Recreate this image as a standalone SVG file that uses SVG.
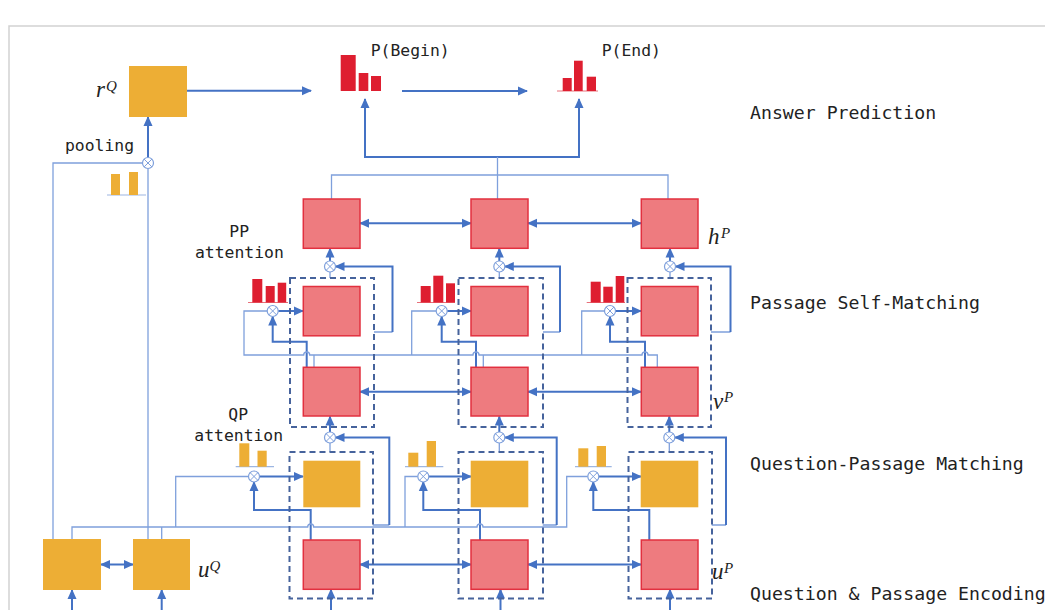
<svg xmlns="http://www.w3.org/2000/svg" width="1045" height="610" viewBox="0 0 1045 610">
<style>
.frame{fill:none;stroke:#d2d2d2;stroke-width:1.5}
.rbox{fill:#EE7B7F;stroke:#E2303F;stroke-width:1.5}
.obox{fill:#EDAE35}
.dash{fill:none;stroke:#46639C;stroke-width:2;stroke-dasharray:6 4}
.thk{fill:none;stroke:#4472C4;stroke-width:2}
.thn{fill:none;stroke:#7FA0DC;stroke-width:1.3}
.rbar{fill:#DE1E30}
.obar{fill:#EDAE35}
.rbase{stroke:#E8707A;stroke-width:1}
.obase{stroke:#9DB6E2;stroke-width:1.2}
.mono{font-family:"DejaVu Sans Mono","Liberation Mono",monospace;fill:#222;font-size:16.4px}
.lbl{font-family:"DejaVu Sans Mono","Liberation Mono",monospace;fill:#222;font-size:18.2px}
.math{font-family:"Liberation Serif","DejaVu Serif",serif;font-style:italic;fill:#222;font-size:23px}
.sup{font-size:15px}
.ot circle{fill:#fff;stroke:#7FA0DC;stroke-width:1.2}
.ot path{stroke:#7FA0DC;stroke-width:1}
</style>
<defs>
<marker id="ah" viewBox="0 0 10 10" refX="9" refY="5" markerWidth="10" markerHeight="10" markerUnits="userSpaceOnUse" orient="auto-start-reverse">
<path d="M0,0.5 L10,5 L0,9.5 z" fill="#4472C4"/>
</marker>
<g id="otm" class="ot"><circle cx="0" cy="0" r="5.5"/><path d="M-3.9,-3.9 L3.9,3.9 M-3.9,3.9 L3.9,-3.9"/></g>
</defs>

<path class="frame" d="M1045,26 H9 V610"/>

<g id="connectors">
<!-- top / answer prediction -->
<path class="thk" d="M187,90.7 H311" marker-end="url(#ah)"/>
<path class="thk" d="M402,91 H527" marker-end="url(#ah)"/>
<path class="thk" d="M365,157 V99" marker-end="url(#ah)"/>
<path class="thk" d="M579,157 V99"  marker-end="url(#ah)"/>
<path class="thk" d="M364,157 H580"/>
<path class="thn" d="M497.5,157 V199 M331.5,199 V175 H668 V199"/>
<!-- pooling -->
<path class="thk" d="M148,157.5 V117" marker-end="url(#ah)"/>
<path class="thn" d="M148,168.5 V539 M142.5,163 H53 V539"/>
<!-- h row bidirectional -->
<path class="thk" d="M360,223.3 H471" marker-start="url(#ah)" marker-end="url(#ah)"/>
<path class="thk" d="M528,223.3 H641" marker-start="url(#ah)" marker-end="url(#ah)"/>
<!-- v row -->
<path class="thk" d="M360,391.7 H471" marker-start="url(#ah)" marker-end="url(#ah)"/>
<path class="thk" d="M528,391.7 H641" marker-start="url(#ah)" marker-end="url(#ah)"/>
<!-- u row -->
<path class="thk" d="M360,564.5 H471" marker-start="url(#ah)" marker-end="url(#ah)"/>
<path class="thk" d="M528,564.5 H641" marker-start="url(#ah)" marker-end="url(#ah)"/>
<path class="thk" d="M101,564.5 H133" marker-start="url(#ah)" marker-end="url(#ah)"/>
<!-- bottom inputs -->
<path class="thk" d="M72,610 V590" marker-end="url(#ah)"/>
<path class="thk" d="M161.7,610 V590" marker-end="url(#ah)"/>
<path class="thk" d="M331,610 V589.5" marker-end="url(#ah)"/>
<path class="thk" d="M500.5,610 V589.5" marker-end="url(#ah)"/>
<path class="thk" d="M670,610 V589.5" marker-end="url(#ah)"/>

<!-- self-matching level: ⊗ to h -->
<path class="thk" d="M330,261 V248.5" marker-end="url(#ah)"/>
<path class="thk" d="M499.3,261 V248.5" marker-end="url(#ah)"/>
<path class="thk" d="M670,261 V248.5" marker-end="url(#ah)"/>
<path class="thn" d="M330,278 V272 M499.3,278 V272 M670,278 V272"/>
<!-- feedback to top ⊗ -->
<path class="thn" d="M374,332 H392.5 M543,332 H560 M711,332 H730.5"/>
<path class="thk" d="M392.5,332 V266.5 H335.5" marker-end="url(#ah)"/>
<path class="thk" d="M560,332 V266.5 H504.8" marker-end="url(#ah)"/>
<path class="thk" d="M730.5,332 V266.5 H675.5" marker-end="url(#ah)"/>
<!-- attention ⊗ to self-matching boxes -->
<path class="thk" d="M278.2,311 H303" marker-end="url(#ah)"/>
<path class="thk" d="M447.2,311 H471" marker-end="url(#ah)"/>
<path class="thk" d="M615.5,311 H641" marker-end="url(#ah)"/>
<!-- thick from v to ⊗ -->
<path class="thk" d="M306.7,367 V341.7 H272.7 V316.5" marker-end="url(#ah)"/>
<path class="thk" d="M476,367 V341.7 H441.7 V316.5" marker-end="url(#ah)"/>
<path class="thk" d="M645,367 V341.7 H610 V316.5" marker-end="url(#ah)"/>
<!-- thin shared line y=355 -->
<path class="thn" d="M267.2,311 H244 V355 H303.7 a3,3 0 0 1 6,0 H473 a3,3 0 0 1 6,0 H642 a3,3 0 0 1 6,0 H657.3 V367"/>
<path class="thn" d="M314,355 V367 M483.3,355 V367"/>
<path class="thn" d="M436.2,311 H411.7 V355 M604.5,311 H581.7 V355"/>

<!-- QP level: ⊗ to v -->
<path class="thk" d="M330,432 V416.5" marker-end="url(#ah)"/>
<path class="thk" d="M499.3,432 V416.5" marker-end="url(#ah)"/>
<path class="thk" d="M669.3,432 V416.5" marker-end="url(#ah)"/>
<path class="thn" d="M330,452 V443 M499.3,452 V443 M669.3,452 V443"/>
<path class="thn" d="M372.7,525 H389.3 M542.7,525 H556.7 M711.7,525 H726"/>
<path class="thk" d="M389.3,525 V437.5 H335.5" marker-end="url(#ah)"/>
<path class="thk" d="M556.7,525 V437.5 H504.8" marker-end="url(#ah)"/>
<path class="thk" d="M726,525 V437.5 H674.8" marker-end="url(#ah)"/>
<path class="thk" d="M259.5,476.5 H303" marker-end="url(#ah)"/>
<path class="thk" d="M428.8,476.5 H471" marker-end="url(#ah)"/>
<path class="thk" d="M598.8,476.5 H641" marker-end="url(#ah)"/>
<path class="thk" d="M310.7,540 V510 H254 V482" marker-end="url(#ah)"/>
<path class="thk" d="M480,540 V510 H423.3 V482" marker-end="url(#ah)"/>
<path class="thk" d="M649.3,540 V510 H593.3 V482" marker-end="url(#ah)"/>
<path class="thn" d="M72,539 V527 H307.7 a3,3 0 0 1 6,0 H477 a3,3 0 0 1 6,0 H566.7 V476.5 H587.8"/>
<path class="thn" d="M161.7,539 V527 M175.7,527 V476.5 H248.5 M405,527 V476.5 H417.8"/>
</g>

<g id="otimes">
<use href="#otm" x="148" y="163"/>
<use href="#otm" x="330" y="266.5"/>
<use href="#otm" x="499.3" y="266.5"/>
<use href="#otm" x="670" y="266.5"/>
<use href="#otm" x="272.7" y="311"/>
<use href="#otm" x="441.7" y="311"/>
<use href="#otm" x="610" y="311"/>
<use href="#otm" x="330" y="437.5"/>
<use href="#otm" x="499.3" y="437.5"/>
<use href="#otm" x="669.3" y="437.5"/>
<use href="#otm" x="254" y="476.5"/>
<use href="#otm" x="423.3" y="476.5"/>
<use href="#otm" x="593.3" y="476.5"/>
</g>

<g id="dashed-groups">
<rect class="dash" x="290" y="278" width="84" height="149"/>
<rect class="dash" x="458.5" y="278" width="84.5" height="149"/>
<rect class="dash" x="627.5" y="278" width="83.5" height="149"/>
<rect class="dash" x="289.5" y="452" width="83.5" height="146.5"/>
<rect class="dash" x="458.5" y="452" width="84.5" height="146.5"/>
<rect class="dash" x="628.5" y="452" width="83.5" height="146.5"/>
</g>

<g id="rQ"><rect class="obox" x="129" y="66" width="58" height="51"/>
<text class="math" x="96" y="97">r</text><text class="math sup" x="106" y="91">Q</text></g>
<g id="q-enc-1"><rect class="obox" x="43" y="539" width="58" height="51"/></g>
<g id="uQ"><rect class="obox" x="133" y="539" width="57" height="51"/>
<text class="math" x="198" y="577">u</text><text class="math sup" x="209.5" y="571">Q</text></g>

<g id="h1"><rect class="rbox" x="303.3" y="199" width="56.7" height="49.3"/></g>
<g id="h2"><rect class="rbox" x="471" y="199" width="57" height="49.3"/></g>
<g id="h3"><rect class="rbox" x="641.3" y="199" width="56.7" height="49.3"/>
<text class="math" x="708" y="243.5">h</text><text class="math sup" x="721" y="237.5">P</text></g>

<g id="sm1"><rect class="rbox" x="303.3" y="286.5" width="56.7" height="49.3"/></g>
<g id="sm2"><rect class="rbox" x="471" y="286.5" width="57" height="49.3"/></g>
<g id="sm3"><rect class="rbox" x="641.3" y="286.5" width="56.7" height="49.3"/></g>

<g id="v1"><rect class="rbox" x="303.3" y="367.3" width="56.7" height="48.7"/></g>
<g id="v2"><rect class="rbox" x="471" y="367.3" width="57" height="48.7"/></g>
<g id="v3"><rect class="rbox" x="641.3" y="367.3" width="56.7" height="48.7"/>
<text class="math" x="713" y="408.5">v</text><text class="math sup" x="724" y="402">P</text></g>

<g id="qp1"><rect class="obox" x="303.3" y="460.7" width="57" height="46.6"/></g>
<g id="qp2"><rect class="obox" x="470.7" y="460.7" width="57.6" height="46.6"/></g>
<g id="qp3"><rect class="obox" x="640.7" y="460.7" width="57.6" height="46.6"/></g>

<g id="u1"><rect class="rbox" x="303.3" y="540" width="56.7" height="49.3"/></g>
<g id="u2"><rect class="rbox" x="471" y="540" width="57" height="49.3"/></g>
<g id="u3"><rect class="rbox" x="641.3" y="540" width="56.7" height="49.3"/>
<text class="math" x="712" y="579">u</text><text class="math sup" x="724" y="573">P</text></g>

<g id="p-begin">
<rect class="rbar" x="340.7" y="55" width="15" height="36"/>
<rect class="rbar" x="358.7" y="73" width="9.6" height="18"/>
<rect class="rbar" x="371" y="76" width="10" height="15"/>
<text class="mono" x="370.7" y="56">P(Begin)</text>
</g>
<g id="p-end">
<line class="rbase" x1="557" y1="91" x2="598" y2="91"/>
<rect class="rbar" x="562.7" y="78" width="9" height="13"/>
<rect class="rbar" x="574" y="60.7" width="8.7" height="30.3"/>
<rect class="rbar" x="586.7" y="76.7" width="9.3" height="14.3"/>
<text class="mono" x="601.7" y="56">P(End)</text>
</g>

<g id="pooling">
<line class="obase" x1="107" y1="195" x2="146" y2="195"/>
<rect class="obar" x="111" y="174" width="9" height="21"/>
<rect class="obar" x="129" y="172" width="9" height="23"/>
<text class="mono" x="65" y="151">pooling</text>
</g>

<g id="pp-attention">
<line class="rbase" x1="248" y1="302.5" x2="288" y2="302.5"/>
<rect class="rbar" x="252.3" y="279" width="10" height="23.5"/>
<rect class="rbar" x="265.7" y="286" width="9" height="16.5"/>
<rect class="rbar" x="277.7" y="282.7" width="8.5" height="19.8"/>
<line class="rbase" x1="417" y1="302.5" x2="455" y2="302.5"/>
<rect class="rbar" x="420.7" y="286" width="10" height="16.5"/>
<rect class="rbar" x="433.3" y="275.7" width="10" height="26.8"/>
<rect class="rbar" x="446" y="283.3" width="9" height="19.2"/>
<line class="rbase" x1="586.7" y1="302.5" x2="625" y2="302.5"/>
<rect class="rbar" x="590.7" y="281.7" width="10" height="20.8"/>
<rect class="rbar" x="603.3" y="286.7" width="9.4" height="15.8"/>
<rect class="rbar" x="615.7" y="276" width="8.6" height="26.5"/>
<text class="mono" x="229.3" y="237">PP</text>
<text class="mono" x="195" y="258">attention</text>
</g>

<g id="qp-attention">
<line class="obase" x1="235.7" y1="466.7" x2="274" y2="466.7"/>
<rect class="obar" x="239.3" y="443.3" width="10" height="23.4"/>
<rect class="obar" x="257.5" y="450.7" width="9.2" height="16"/>
<line class="obase" x1="405" y1="466.7" x2="443.3" y2="466.7"/>
<rect class="obar" x="408.3" y="452.7" width="10" height="14"/>
<rect class="obar" x="426.7" y="441" width="9.3" height="25.7"/>
<line class="obase" x1="575" y1="466.7" x2="611.7" y2="466.7"/>
<rect class="obar" x="578.3" y="448.3" width="10" height="18.4"/>
<rect class="obar" x="596.7" y="446" width="9.3" height="20.7"/>
<text class="mono" x="228.3" y="420">QP</text>
<text class="mono" x="194.3" y="441">attention</text>
</g>

<g id="layer-labels">
<text class="lbl" x="750" y="119">Answer Prediction</text>
<text class="lbl" x="750" y="309">Passage Self-Matching</text>
<text class="lbl" x="750" y="470">Question-Passage Matching</text>
<text class="lbl" x="750" y="600">Question &amp; Passage Encoding</text>
</g>
</svg>
